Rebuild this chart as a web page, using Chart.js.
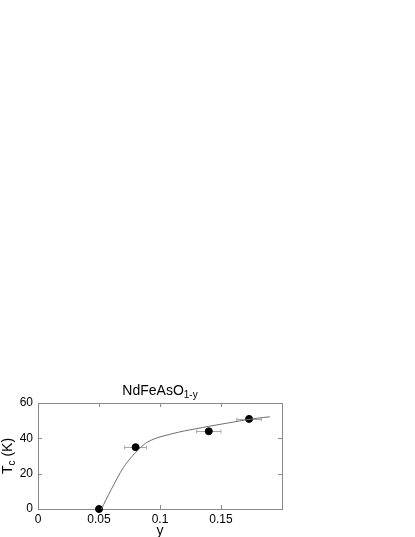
<!DOCTYPE html>
<html>
<head>
<meta charset="utf-8">
<script src="https://cdn.jsdelivr.net/npm/chart.js@4.4.1/dist/chart.umd.min.js"></script>
<style>
  html, body { margin: 0; padding: 0; background: #fff; }
  #wrap { position: relative; width: 415px; height: 537px; }
</style>
</head>
<body>
<div id="wrap"><canvas id="tc-chart" width="415" height="537"></canvas></div>
<script>
// measured points: y (oxygen deficiency) vs Tc
const pointX = [0.05, 0.08, 0.14, 0.173];
const pointY = [0, 35, 44, 51];
const pointXErr = [0, 0.009, 0.01, 0.01];

// guide curve through the data
const curveX = [0.052, 0.06, 0.07, 0.078, 0.086, 0.09, 0.095, 0.1, 0.11, 0.12, 0.13, 0.14, 0.15, 0.16, 0.17, 0.18, 0.19];
const curveY = [0, 11, 23.5, 30.5, 36, 38, 39.6, 40.8, 42.6, 44.2, 45.5, 46.8, 48, 49.2, 50.4, 51.4, 52.2];

const xTicks = [0, 0.05, 0.1, 0.15];
const yTicks = [0, 20, 40, 60];

const FONT = 'Liberation Sans, Arial, Helvetica, sans-serif';

function toXY(xs, ys) {
    return xs.map(function(x, i) { return { x: x, y: ys[i] }; });
}

// box, inward ticks, error bars, titles
const framePlugin = {
    id: 'frame',
    beforeDatasetsDraw: function(chart) {
        var ctx = chart.ctx;
        var a = chart.chartArea;
        var xs = chart.scales.x, ys = chart.scales.y;
        ctx.save();
        ctx.strokeStyle = '#8a8a8a';
        ctx.lineWidth = 1;
        ctx.strokeRect(Math.round(a.left) + 0.5, Math.round(a.top) + 0.5,
            Math.round(a.right - a.left), Math.round(a.bottom - a.top));
        ctx.beginPath();
        xTicks.forEach(function(v) {
            if (v <= xs.min || v >= xs.max) return;
            var px = Math.round(xs.getPixelForValue(v)) + 0.5;
            ctx.moveTo(px, a.bottom); ctx.lineTo(px, a.bottom - 4);
            ctx.moveTo(px, a.top); ctx.lineTo(px, a.top + 4);
        });
        yTicks.forEach(function(v) {
            if (v <= ys.min || v >= ys.max) return;
            var py = Math.round(ys.getPixelForValue(v)) + 0.5;
            ctx.moveTo(a.left, py); ctx.lineTo(a.left + 4, py);
            ctx.moveTo(a.right, py); ctx.lineTo(a.right - 4, py);
        });
        ctx.stroke();

        // horizontal error bars
        ctx.strokeStyle = '#a8a8a8';
        ctx.beginPath();
        pointX.forEach(function(x, i) {
            var e = pointXErr[i];
            if (!e) return;
            var py = Math.round(ys.getPixelForValue(pointY[i])) + 0.5;
            var x1 = xs.getPixelForValue(x - e), x2 = xs.getPixelForValue(x + e);
            ctx.moveTo(x1, py); ctx.lineTo(x2, py);
            ctx.moveTo(x1, py - 2); ctx.lineTo(x1, py + 2);
            ctx.moveTo(x2, py - 2); ctx.lineTo(x2, py + 2);
        });
        ctx.stroke();
        ctx.restore();
    },
    afterDraw: function(chart) {
        var ctx = chart.ctx;
        var a = chart.chartArea;
        var cx = (a.left + a.right) / 2;
        ctx.save();
        ctx.fillStyle = '#000';

        // title NdFeAsO_{1-y}
        ctx.font = '14px ' + FONT;
        var main = 'NdFeAsO';
        var wMain = ctx.measureText(main).width;
        ctx.font = '10px ' + FONT;
        var sub = '1-y';
        var wSub = ctx.measureText(sub).width;
        var start = cx - (wMain + wSub) / 2;
        ctx.textBaseline = 'alphabetic';
        ctx.textAlign = 'left';
        ctx.font = '14px ' + FONT;
        ctx.fillText(main, start, 394.5);
        ctx.font = '10px ' + FONT;
        ctx.fillText(sub, start + wMain, 397.5);

        // x axis title
        ctx.font = '14px ' + FONT;
        ctx.textAlign = 'center';
        ctx.fillText('y', cx, 534.5);

        // y axis title T_c (K), rotated
        var cy = (a.top + a.bottom) / 2;
        ctx.translate(12, cy);
        ctx.rotate(-Math.PI / 2);
        ctx.textAlign = 'left';
        var wT = ctx.measureText('T').width;
        ctx.font = '10px ' + FONT;
        var wC = ctx.measureText('c').width;
        ctx.font = '14px ' + FONT;
        var wK = ctx.measureText(' (K)').width;
        var s = -(wT + wC + wK) / 2;
        ctx.fillText('T', s, 0);
        ctx.font = '10px ' + FONT;
        ctx.fillText('c', s + wT, 3);
        ctx.font = '14px ' + FONT;
        ctx.fillText(' (K)', s + wT + wC, 0);
        ctx.restore();
    }
};

new Chart(document.getElementById('tc-chart'), {
    type: 'scatter',
    data: {
        datasets: [{
            type: 'line',
            label: 'curve',
            data: toXY(curveX, curveY),
            borderColor: '#6e6e6e',
            borderWidth: 1,
            pointRadius: 0,
            tension: 0.3,
            fill: false,
            clip: false
        }, {
            label: 'Tc',
            data: toXY(pointX, pointY),
            backgroundColor: '#000',
            borderColor: '#000',
            pointRadius: 3.5,
            pointHoverRadius: 3.5,
            clip: false
        }]
    },
    plugins: [framePlugin],
    options: {
        responsive: false,
        animation: false,
        devicePixelRatio: 1,
        layout: { padding: { top: 403, right: 133, left: 0, bottom: 0 } },
        plugins: {
            legend: { display: false },
            tooltip: { enabled: false },
            title: { display: false }
        },
        scales: {
            x: {
                type: 'linear',
                min: 0,
                max: 0.2,
                afterFit: function(scale) { scale.height = 28; },
                afterBuildTicks: function(scale) {
                    scale.ticks = xTicks.map(function(v) { return { value: v }; });
                },
                grid: { display: false, drawTicks: false },
                border: { display: false },
                ticks: {
                    color: '#000',
                    padding: 3,
                    maxRotation: 0,
                    font: { family: FONT, size: 12 },
                    callback: function(v) { return String(v); }
                }
            },
            y: {
                type: 'linear',
                min: 0,
                max: 60,
                afterFit: function(scale) { scale.width = 38; },
                afterBuildTicks: function(scale) {
                    scale.ticks = yTicks.map(function(v) { return { value: v }; });
                },
                grid: { display: false, drawTicks: false },
                border: { display: false },
                ticks: {
                    color: '#000',
                    padding: 5,
                    font: { family: FONT, size: 12 },
                    callback: function(v) { return String(v); }
                }
            }
        }
    }
});
</script>
</body>
</html>
